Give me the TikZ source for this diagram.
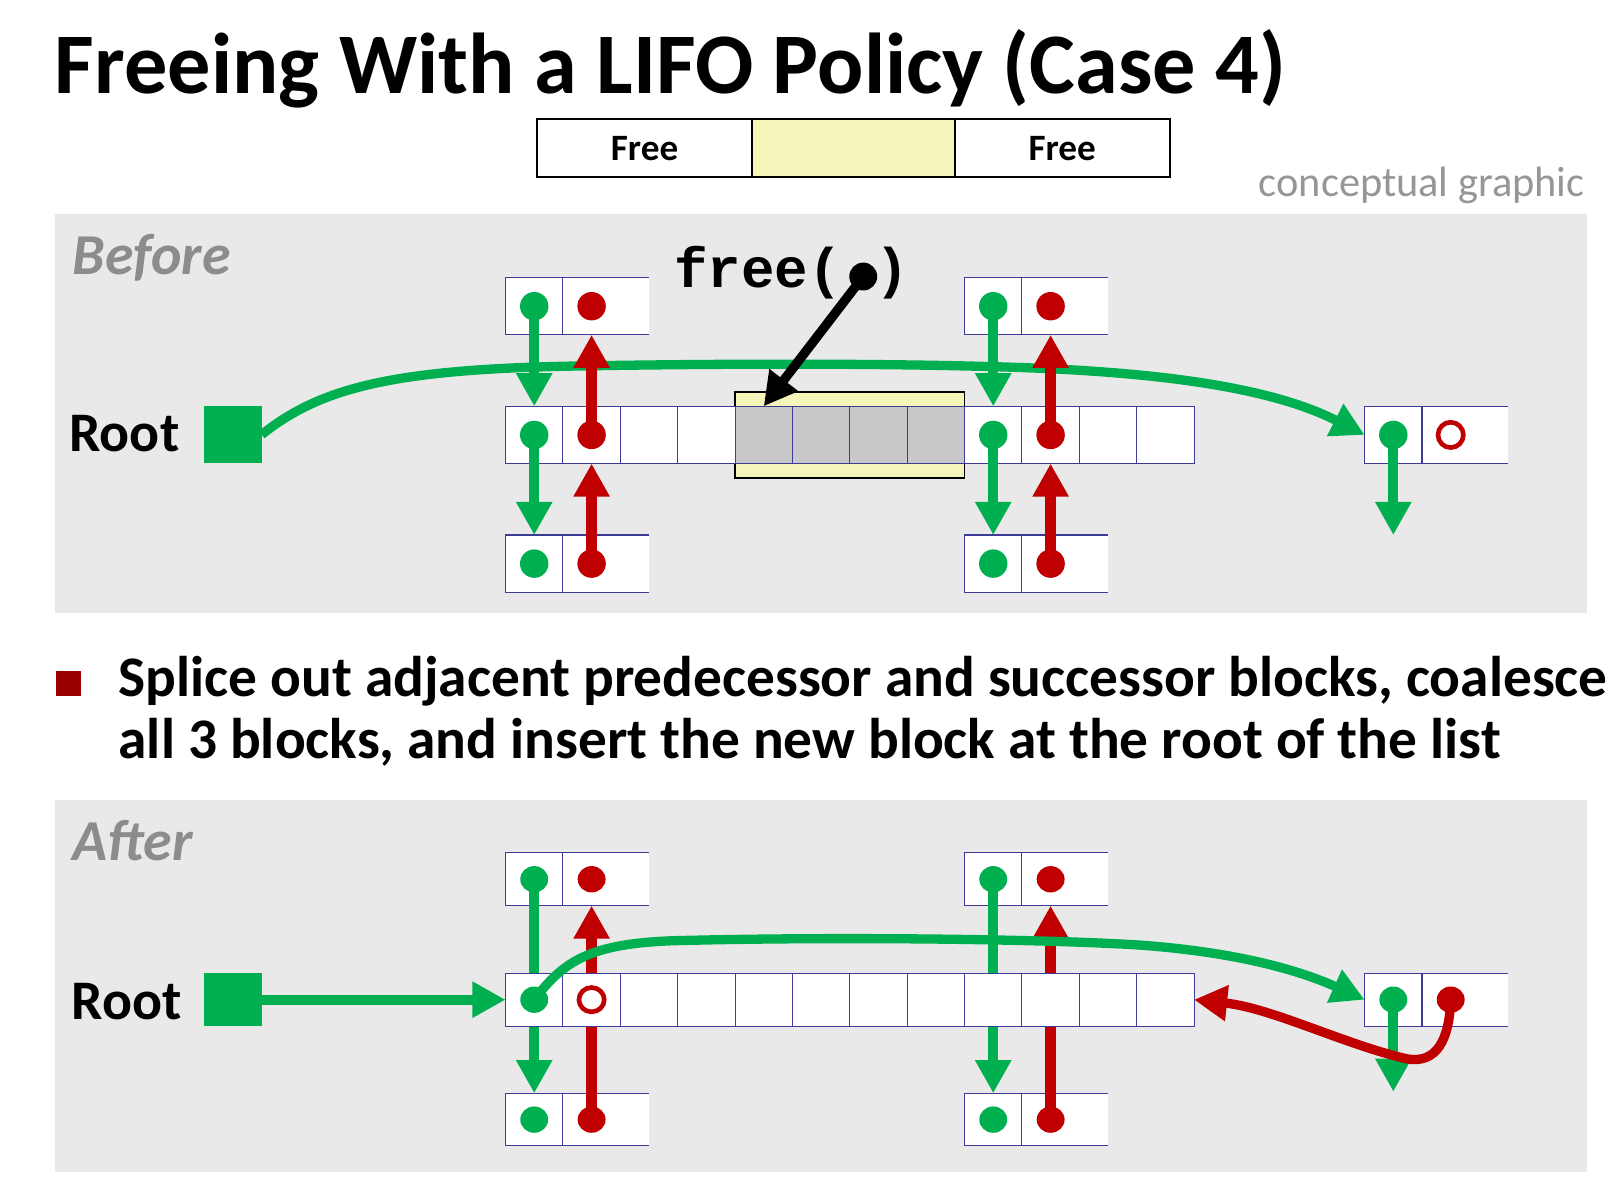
\documentclass[tikz,border=0pt]{standalone}
\usepackage{fontspec}
\setmainfont{Carlito}
\newfontfamily\codefont{Liberation Mono}
\usetikzlibrary{arrows.meta,shapes.geometric}
\definecolor{pgreen}{RGB}{0,176,80}
\definecolor{pred}{RGB}{192,0,0}
\definecolor{cellline}{RGB}{60,60,150}
\definecolor{panelbg}{RGB}{233,233,233}
\definecolor{hiyellow}{RGB}{245,245,186}
\definecolor{cellgray}{RGB}{200,200,200}
\definecolor{bulletred}{RGB}{153,0,0}
\definecolor{labelgray}{RGB}{140,140,140}
\definecolor{notegray}{RGB}{150,150,150}
% block of two cells plus an open stub cell
\newcommand\cellblock[4]{%
  \node[cellbox, minimum height=#4] (#1a) at (#2,#3) {};
  \node[cellbox, minimum height=#4] (#1b) at (#1a.north east) {};
  \node[stubbox, minimum height=#4] (#1c) at (#1b.north east) {};
  \draw[draw=cellline, line width=1pt] (#1c.north west) -- (#1c.north east) (#1c.south west) -- (#1c.south east);
}
\begin{document}
\begin{tikzpicture}[x=1pt,y=-1pt,
  cellbox/.style={draw=cellline, line width=1pt, fill=white, minimum width=55.5pt, inner sep=0pt, outer sep=0pt, anchor=north west},
  graycell/.style={cellbox, fill=cellgray},
  stubbox/.style={fill=white, minimum width=27.5pt, inner sep=0pt, outer sep=0pt, anchor=north west},
  gdot/.style={circle, fill=pgreen, minimum size=27.5pt, inner sep=0pt},
  rdot/.style={circle, fill=pred, minimum size=27.5pt, inner sep=0pt},
  rring/.style={circle, draw=pred, line width=4.5pt, minimum size=24.5pt, inner sep=0pt},
  gdotA/.style={ellipse, fill=pgreen, minimum width=27pt, minimum height=25.5pt, inner sep=0pt},
  rdotA/.style={ellipse, fill=pred, minimum width=27pt, minimum height=25.5pt, inner sep=0pt},
  rringA/.style={ellipse, draw=pred, line width=4.5pt, minimum width=24.5pt, minimum height=23.5pt, inner sep=0pt},
  bigtip/.style={-{Triangle[width=33pt,length=32pt]}},
  garrow/.style={draw=pgreen, line width=10pt, bigtip},
  rarrow/.style={draw=pred, line width=10pt, bigtip},
  gcurve/.style={draw=pgreen, line width=9pt, bigtip},
  rcurve/.style={draw=pred, line width=9pt, bigtip},
  karrow/.style={draw=black, line width=9pt, -{Triangle[width=33pt,length=32pt]}},
  lbl/.style={inner sep=0pt, anchor=base west},
  barbox/.style={draw=black, line width=2pt, minimum height=56pt, inner sep=0pt, outer sep=0pt, anchor=north west, font=\fontsize{36}{40}\selectfont\bfseries},
  rootsq/.style={fill=pgreen, minimum width=55.5pt, inner sep=0pt, outer sep=0pt, anchor=north west},
]
\useasboundingbox (0,0) rectangle (1568,1150);
\fill[white] (0,0) rectangle (1568,1150);

% ---------- title ----------
\node[lbl, font=\fontsize{83.5}{90}\selectfont\bfseries] (title) at (53,90) {Freeing With a LIFO Policy (Case 4)};

% ---------- top bar ----------
\node[barbox, fill=white, minimum width=208pt] (barL) at (519.5,115.5) {Free};
\node[barbox, fill=hiyellow, minimum width=196pt] (barM) at (727.5,115.5) {};
\node[barbox, fill=white, minimum width=208pt] (barR) at (923.5,115.5) {Free};
\node[inner sep=0pt, anchor=base east, text=notegray, font=\fontsize{41}{48}\selectfont] (note) at (1533,190) {conceptual graphic};

% ---------- BEFORE panel ----------
\fill[panelbg] (53,207) rectangle (1535,593);
\node[lbl, text=labelgray, font=\fontsize{56}{60}\selectfont\bfseries\itshape] (beforelbl) at (70,266) {Before};
\node[lbl, font=\fontsize{54}{60}\selectfont\bfseries] (rootlblB) at (67,437) {Root};
\node[rootsq, minimum height=55.5pt] (rootB) at (197.6,392.7) {};

\node[draw=black, line width=1.5pt, fill=hiyellow, minimum width=222pt, minimum height=83.5pt, inner sep=0pt, outer sep=0pt, anchor=north west] (freed) at (711,379) {};
\foreach \i in {0,1,2,3,8,9,10,11} { \node[cellbox, minimum height=55.4pt] (bm\i) at ({489+55.5*\i},393) {}; }
\foreach \i in {4,5,6,7} { \node[graycell, minimum height=55.4pt] (bm\i) at ({489+55.5*\i},393) {}; }

\cellblock{btl}{489}{268.5}{55.4pt}
\cellblock{bbl}{489}{517.5}{55.4pt}
\cellblock{btr}{933}{268.5}{55.4pt}
\cellblock{bbr}{933}{517.5}{55.4pt}
\cellblock{bfr}{1320}{393}{55.4pt}

\node[gdot] (btlg) at (btla.center) {};
\node[rdot] (btlr) at (btlb.center) {};
\node[gdot] (bblg) at (bbla.center) {};
\node[rdot] (bblr) at (bblb.center) {};
\node[gdot] (btrg) at (btra.center) {};
\node[rdot] (btrr) at (btrb.center) {};
\node[gdot] (bbrg) at (bbra.center) {};
\node[rdot] (bbrr) at (bbrb.center) {};
\node[gdot] (bm0g) at (bm0.center) {};
\node[rdot] (bm1r) at (bm1.center) {};
\node[gdot] (bm8g) at (bm8.center) {};
\node[rdot] (bm9r) at (bm9.center) {};
\node[gdot] (bfrg) at (bfra.center) {};
\node[rring] (bfrr) at (bfrb.center) {};
\coordinate (bfrend) at (1347.75,517.5);

% root list curve
\draw[gcurve] (rootB.east) .. controls (310,375) and (380,357) .. (560,354)
  .. controls (740,351) and (900,352) .. (1000,356)
  .. controls (1150,362) and (1240,380) .. (bfra.west);

% vertical links
\draw[garrow] (btlg.center) -- (bm0.north);
\draw[garrow] (bm0g.center) -- (bbla.north);
\draw[rarrow] (bm1r.center) -- (btlb.south);
\draw[rarrow] (bblr.center) -- (bm1.south);
\draw[garrow] (btrg.center) -- (bm8.north);
\draw[garrow] (bm8g.center) -- (bbra.north);
\draw[rarrow] (bm9r.center) -- (btrb.south);
\draw[rarrow] (bbrr.center) -- (bm9.south);
\draw[garrow] (bfrg.center) -- (bfrend);

% free( ) call
\node[lbl, font=\codefont\bfseries\fontsize{54}{58}\selectfont] (freecall) at (652,278.3) {free(\ )};
\node[circle, fill=black, minimum size=27pt, inner sep=0pt] (freedot) at (835,267.5) {};
\draw[karrow] (freedot.center) -- (bm4.north);

% ---------- bullet ----------
\node[fill=bulletred, minimum size=24pt, inner sep=0pt, outer sep=0pt, anchor=north west] (bullet) at (54,649.5) {};
\node[lbl, font=\fontsize{55.5}{60}\selectfont\bfseries] (bul1) at (114.5,674) {Splice out adjacent predecessor and successor blocks, coalesce};
\node[lbl, font=\fontsize{55.5}{60}\selectfont\bfseries] (bul2) at (114.5,733.5) {all 3 blocks, and insert the new block at the root of the list};

% ---------- AFTER panel ----------
\fill[panelbg] (53,774) rectangle (1535,1134);
\node[lbl, text=labelgray, font=\fontsize{56}{60}\selectfont\bfseries\itshape] (afterlbl) at (70,832) {After};
\node[lbl, font=\fontsize{54}{60}\selectfont\bfseries] (rootlblA) at (69,986) {Root};
\node[rootsq, minimum height=51pt] (rootA) at (197.6,941.5) {};

\cellblock{atl}{489}{825}{51pt}
\cellblock{abl}{489}{1057.5}{51pt}
\cellblock{atr}{933}{825}{51pt}
\cellblock{abr}{933}{1057.5}{51pt}

\node[gdotA] (atlg) at (atla.center) {};
\node[rdotA] (atlr) at (atlb.center) {};
\node[gdotA] (ablg) at (abla.center) {};
\node[rdotA] (ablr) at (ablb.center) {};
\node[gdotA] (atrg) at (atra.center) {};
\node[rdotA] (atrr) at (atrb.center) {};
\node[gdotA] (abrg) at (abra.center) {};
\node[rdotA] (abrr) at (abrb.center) {};

% links that pass behind the coalesced block
\draw[garrow] (atlg.center) -- (abla.north);
\draw[rarrow] (ablr.center) -- (atlb.south);
\draw[garrow] (atrg.center) -- (abra.north);
\draw[rarrow] (abrr.center) -- (atrb.south);

\foreach \i in {0,...,11} { \node[cellbox, minimum height=51pt] (am\i) at ({489+55.5*\i},941.5) {}; }
\cellblock{afr}{1320}{941.5}{51pt}

\draw[garrow] (rootA.east) -- (am0.west);
\node[gdotA] (amg) at (am0.center) {};
\node[rringA] (amr) at (am1.center) {};
\node[gdotA] (afrg) at (afra.center) {};
\node[rdotA] (afrr) at (afrb.center) {};
\coordinate (afrend) at (1347.75,1056);

\draw[gcurve] (amg.center) .. controls (545,930) and (570,913) .. (650,910)
  .. controls (800,906) and (1000,908) .. (1100,914)
  .. controls (1200,921) and (1260,940) .. (afra.west);
\draw[garrow] (afrg.center) -- (afrend);
\draw[rcurve] (afrr.center) .. controls (1402,1005) and (1390,1030) .. (1360,1024)
  .. controls (1300,1010) and (1230,975) .. (am11.east);
\end{tikzpicture}
\end{document}
